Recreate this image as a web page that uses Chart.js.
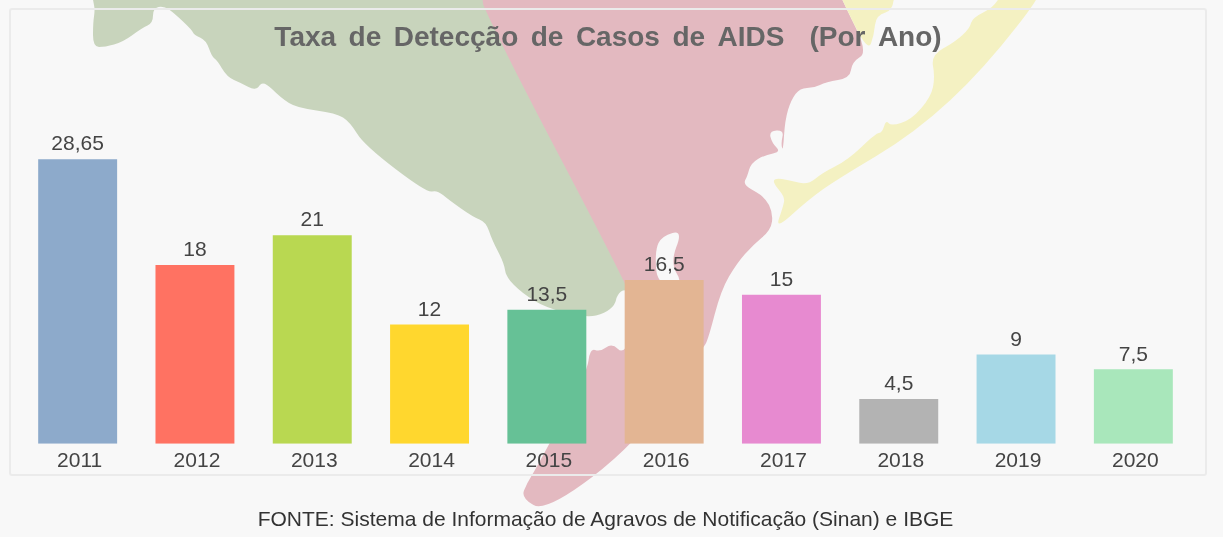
<!DOCTYPE html>
<html><head><meta charset="utf-8">
<script src="https://cdn.jsdelivr.net/npm/chart.js@4"></script>
<style>
html,body{margin:0;padding:0;width:1223px;height:537px;overflow:hidden;background:#f8f8f8}
#map,#chart,#panel,#foot{position:absolute}
#map{left:0;top:0}
#panel{left:9px;top:8px;width:1194px;height:464px;border:2px solid #ebebeb;border-radius:3px;box-sizing:content-box}
#chart{left:0;top:0}
#foot{left:0;width:1211px;top:507px;text-align:center;font:21px "Liberation Sans",Arial,sans-serif;color:#333}
</style></head><body>
<svg id="map" width="1223" height="537"></svg>
<div id="panel"></div>
<canvas id="chart" width="1223" height="537"></canvas>
<div id="foot">FONTE: Sistema de Informação de Agravos de Notificação (Sinan) e IBGE</div>
<script>
const years=["2011","2012","2013","2014","2015","2016","2017","2018","2019","2020"];
const rates=[28.65,18,21,12,13.5,16.5,15,4.5,9,7.5];
const barColors=["#8daacb","#ff7262","#b9d851","#ffd72e","#66c196","#e3b593","#e78ad0","#b3b3b3","#a6d8e6","#a9e7bb"];
const titleText="Taxa de Detecção de Casos de AIDS  (Por Ano)";

// decorative background map
const greenMap=[[88,-30],[93,0],[95,10],[93,23],[93,47],[105,47],[123,42],[142,28],[153,23],[153,8],[164,6],[174,13],[192,30],[194,35],[206,40],[212,57],[217,60],[227,77],[241,83],[256,91],[263,80],[281,98],[297,108],[336,113],[350,122],[364,145],[427,193],[437,190],[449,200],[473,217],[486,222],[492,240],[504,263],[506,277],[522,293],[546,308],[587,318],[605,313],[615,305],[617,295],[625,288],[660,300],[560,-30]];
const pinkMap=[[468,-30],[830,-30],[842,0],[868,52],[852,62],[850,78],[826,82],[814,88],[800,88],[791,100],[785,120],[783,152],[781,143],[784,130],[769,131],[772,143],[781,152],[765,155],[751,163],[747,177],[744,182],[747,187],[765,197],[773,213],[771,230],[753,245],[737,263],[721,290],[708,340],[703,348],[637,443],[546,512],[521,498],[527,483],[537,467],[587,373],[590,348],[600,352],[612,343],[624,355],[640,320],[625,281],[500,43]];
const bayMap=[[683,230],[662,236],[655,250],[657,285],[684,285],[670,263]];
const yellowA=[[830,-30],[893,-30],[895,10],[876,15],[874,35],[868,52],[842,0]];
const yellowB=[[1010,-30],[1060,-30],[986,67],[915,133],[836,180],[808,200],[775,230],[783,207],[785,197],[773,183],[775,178],[789,180],[808,185],[822,173],[848,160],[876,133],[882,133],[886,120],[891,126],[911,120],[931,97],[935,77],[931,55],[955,42],[970,28],[972,18],[998,5]];
const svg=document.getElementById('map');
function shape(pts,fill){
  const mid=(a,b)=>[(a[0]+b[0])/2,(a[1]+b[1])/2];
  const n=pts.length;
  const s=mid(pts[n-1],pts[0]);
  let d='M'+s.join(' ');
  for(let i=0;i<n;i++){const m=mid(pts[i],pts[(i+1)%n]);d+='Q'+pts[i].join(' ')+' '+m.join(' ');}
  const p=document.createElementNS('http://www.w3.org/2000/svg','path');
  p.setAttribute('d',d+'Z');
  p.setAttribute('fill',fill);
  svg.appendChild(p);
}
shape(greenMap,'#c8d4bc');shape(pinkMap,'#e3b9c0');shape(bayMap,'#f8f8f8');shape(yellowA,'#f4f1c2');shape(yellowB,'#f4f1c2');

const spacing={id:'spacing',
  afterLayout(c){c.titleBlock.left+=2.5;c.titleBlock.right+=2.5;},
  beforeDraw(c){c.ctx.wordSpacing='4.7px';}};
const valueLabels={id:'valueLabels',afterDatasetsDraw(c){
  const ctx=c.ctx,meta=c.getDatasetMeta(0);
  ctx.save();ctx.font='21px "Liberation Sans",Arial,sans-serif';ctx.fillStyle='#444';
  ctx.textAlign='center';ctx.textBaseline='bottom';
  meta.data.forEach((b,i)=>ctx.fillText(String(rates[i]).replace('.',','),b.x,b.y-4));
  ctx.restore();
}};
new Chart(document.getElementById('chart'),{
  type:'bar',
  data:{labels:years,datasets:[{data:rates,backgroundColor:barColors,barPercentage:0.673,categoryPercentage:1,borderWidth:0}]},
  plugins:[spacing,valueLabels],
  options:{
    responsive:false,animation:false,devicePixelRatio:1,
    layout:{padding:{left:19,right:31,top:0,bottom:66}},
    plugins:{legend:{display:false},tooltip:{enabled:false},
      title:{display:true,text:titleText,color:'#666',font:{family:'"Liberation Sans",Arial,sans-serif',size:28,weight:'bold'},padding:{top:21,bottom:0},align:'center'}},
    scales:{
      x:{grid:{display:false},border:{display:false},ticks:{color:'#444',font:{family:'"Liberation Sans",Arial,sans-serif',size:21},padding:-3,labelOffset:2,maxRotation:0}},
      y:{display:false,min:0,max:39.18}
    }
  }
});
</script></body></html>
